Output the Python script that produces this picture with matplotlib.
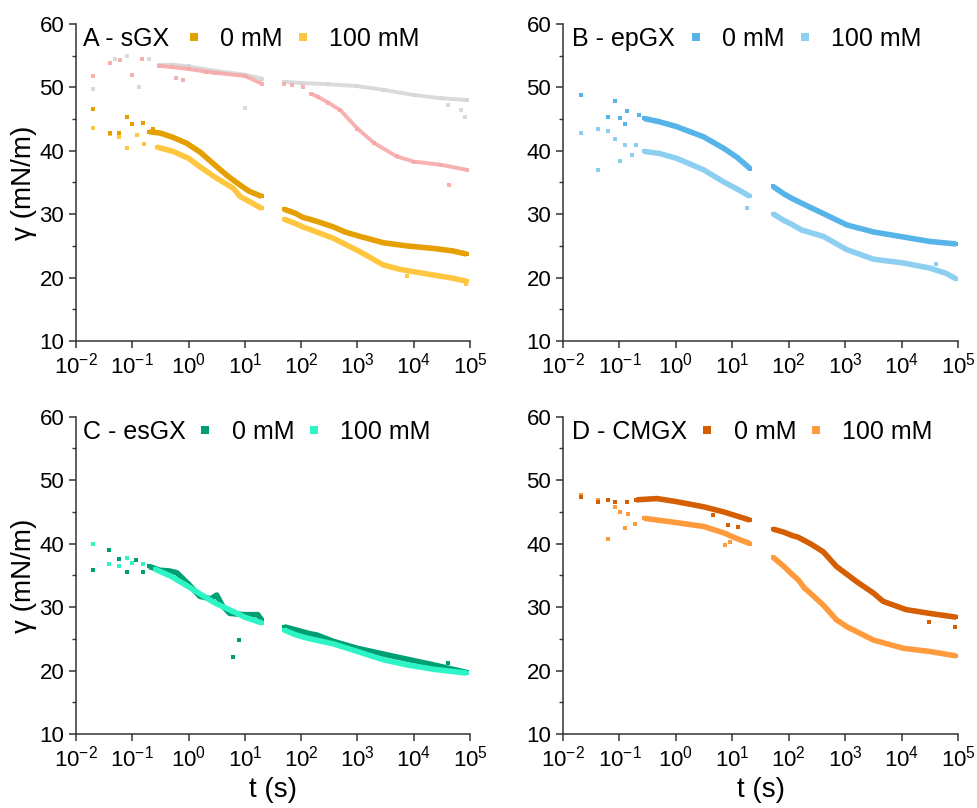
import matplotlib.pyplot as plt
import numpy as np

plt.rcParams['font.family'] = ['Liberation Sans', 'DejaVu Sans']
plt.rcParams['axes.linewidth'] = 1.1

# ---------------- datos (t en s, gamma en mN/m) ----------------
# Panel A - sGX
a0_loose_t = [0.02, 0.04, 0.058, 0.079, 0.098, 0.157, 0.235]
a0_loose_g = [46.6, 42.8, 42.8, 45.4, 44.3, 44.4, 43.5]
a0_seg1_t = [0.2, 0.31, 0.5, 0.92, 1.6, 3.16, 5.0, 8.2, 12.0, 19.9]
a0_seg1_g = [43.0, 42.8, 42.2, 41.2, 39.8, 37.5, 36.0, 34.6, 33.6, 32.8]
a0_seg2_t = [49.5, 81, 107, 143, 200, 372, 600, 1100, 2870, 7480, 22300, 50000, 87000]
a0_seg2_g = [30.8, 30.1, 29.5, 29.2, 28.8, 28.0, 27.2, 26.5, 25.5, 25.0, 24.6, 24.2, 23.7]

a100_loose_t = [0.02, 0.04, 0.058, 0.079, 0.12, 0.16, 7480, 85000]
a100_loose_g = [43.6, 42.6, 42.2, 40.5, 42.5, 41.0, 20.3, 19.0]
a100_seg1_t = [0.27, 0.53, 1.0, 1.58, 3.0, 6.2, 8.2, 12.0, 20.0]
a100_seg1_g = [40.6, 39.9, 38.8, 37.5, 35.8, 34.1, 32.8, 32.0, 30.9]
a100_seg2_t = [49.5, 81, 107, 143, 200, 372, 1100, 2870, 5690, 22300, 50000, 87000]
a100_seg2_g = [29.2, 28.5, 28.0, 27.6, 27.1, 26.2, 24.1, 22.0, 21.3, 20.4, 19.9, 19.4]

# series de fondo (gris y rosa) del panel A
grey_loose_t = [0.02, 0.05, 0.08, 0.13, 0.2, 10, 40000, 70000, 80000]
grey_loose_g = [49.7, 54.5, 55.0, 50.0, 54.5, 46.7, 47.2, 46.5, 45.3]
grey_seg1_t = [0.3, 0.5, 1.0, 3.0, 10, 20]
grey_seg1_g = [53.5, 53.6, 53.3, 52.6, 52.0, 51.4]
grey_seg2_t = [50, 100, 300, 1000, 3000, 10000, 30000, 87000]
grey_seg2_g = [50.9, 50.7, 50.5, 50.2, 49.6, 48.8, 48.3, 48.0]

pink_loose_t = [0.02, 0.04, 0.06, 0.1, 0.15, 0.6, 0.8, 50, 70, 110, 43000]
pink_loose_g = [51.8, 53.8, 54.3, 52.0, 54.5, 51.5, 51.2, 50.6, 50.4, 50.0, 34.6]
pink_seg1_t = [0.3, 0.5, 1.0, 2.0, 3.0, 10, 20]
pink_seg1_g = [53.4, 53.2, 52.9, 52.5, 52.3, 51.8, 50.6]
pink_seg2_t = [150, 200, 300, 500, 1000, 2000, 5000, 10000, 30000, 87000]
pink_seg2_g = [49.0, 48.5, 47.6, 46.4, 43.5, 41.2, 39.1, 38.3, 37.8, 37.0]

# Panel B - epGX
b0_loose_t = [0.021, 0.062, 0.084, 0.103, 0.127, 0.136, 0.22]
b0_loose_g = [48.8, 45.4, 47.9, 45.2, 44.3, 46.2, 45.6]
b0_seg1_t = [0.27, 0.5, 1.04, 3.1, 7.0, 12.0, 20.6]
b0_seg1_g = [45.1, 44.6, 43.8, 42.2, 40.4, 39.0, 37.2]
b0_seg2_t = [52, 82, 113, 147, 250, 410, 1070, 3170, 10800, 31600, 93000]
b0_seg2_g = [34.4, 33.2, 32.5, 32.0, 31.0, 30.1, 28.3, 27.2, 26.4, 25.7, 25.3]

b100_loose_t = [0.021, 0.041, 0.041, 0.062, 0.084, 0.103, 0.127, 0.17, 0.2, 18, 40000]
b100_loose_g = [42.8, 43.5, 36.9, 43.2, 41.9, 38.4, 40.9, 39.3, 40.9, 30.9, 22.2]
b100_seg1_t = [0.27, 0.5, 1.04, 3.1, 7.0, 12.0, 20.6]
b100_seg1_g = [39.9, 39.6, 38.8, 37.0, 35.1, 34.0, 32.8]
b100_seg2_t = [52, 82, 113, 170, 410, 1070, 3170, 10800, 31600, 60000, 93000]
b100_seg2_g = [30.1, 29.0, 28.4, 27.5, 26.5, 24.4, 22.9, 22.3, 21.5, 20.7, 19.8]

# Panel C - esGX
c0_loose_t = [0.02, 0.039, 0.058, 0.079, 0.116, 0.157, 6.2, 8.0, 40000]
c0_loose_g = [35.8, 39.0, 37.6, 35.6, 37.4, 35.6, 22.1, 24.8, 21.2]
c0_seg1_t = [0.2, 0.31, 0.45, 0.62, 1.0, 1.58, 2.5, 3.16, 4.0, 5.4, 10, 17, 20]
c0_seg1_g = [36.4, 35.8, 35.7, 35.4, 33.6, 31.7, 31.3, 31.9, 30.2, 29.0, 28.8, 28.8, 27.9]
c0_seg2_t = [49.5, 81, 107, 143, 190, 372, 1000, 2870, 7480, 22300, 87000]
c0_seg2_g = [26.9, 26.4, 26.1, 25.8, 25.6, 24.6, 23.5, 22.6, 21.8, 20.9, 19.7]

c100_loose_t = [0.02, 0.039, 0.058, 0.079, 0.1, 0.157]
c100_loose_g = [40.0, 36.8, 36.4, 37.8, 36.9, 36.8]
c100_seg1_t = [0.25, 0.5, 1.0, 1.58, 3.0, 6.2, 10, 20]
c100_seg1_g = [36.0, 34.8, 33.2, 32.1, 30.6, 29.3, 28.4, 27.5]
c100_seg2_t = [49.5, 81, 107, 143, 372, 1000, 2870, 7480, 22300, 87000]
c100_seg2_g = [26.4, 25.6, 25.3, 25.0, 24.2, 23.0, 21.7, 20.9, 20.2, 19.6]

# Panel D - CMGX
d0_loose_t = [0.021, 0.041, 0.062, 0.084, 0.136, 4.5, 8.5, 12.5, 30000, 90000]
d0_loose_g = [47.4, 46.6, 46.9, 46.6, 46.6, 44.5, 42.9, 42.6, 27.6, 26.9]
d0_seg1_t = [0.2, 0.46, 1.04, 3.1, 7.0, 20.6]
d0_seg1_g = [46.9, 47.1, 46.6, 45.8, 45.0, 43.7]
d0_seg2_t = [52, 82, 113, 147, 240, 410, 700, 1600, 3170, 4700, 12000, 31600, 93000]
d0_seg2_g = [42.3, 41.8, 41.3, 41.0, 40.0, 38.7, 36.4, 34.0, 32.2, 30.9, 29.6, 29.0, 28.4]

d100_loose_t = [0.021, 0.041, 0.062, 0.084, 0.103, 0.127, 0.14, 0.19, 7.5, 9.0]
d100_loose_g = [47.6, 46.9, 40.7, 45.8, 45.0, 42.4, 44.7, 43.1, 39.8, 40.2]
d100_seg1_t = [0.27, 1.04, 3.1, 7.0, 12.0, 20.6]
d100_seg1_g = [44.0, 43.3, 42.7, 41.7, 40.8, 40.0]
d100_seg2_t = [52, 82, 113, 147, 190, 240, 410, 700, 1070, 3170, 10800, 31600, 93000]
d100_seg2_g = [37.9, 36.4, 35.2, 34.3, 33.0, 32.2, 30.3, 28.0, 26.9, 24.8, 23.5, 23.0, 22.3]

# colores
col_a = ['#E69F00', '#FFC73F']
col_b = ['#56B4E9', '#8DCFF1']
col_c = ['#009E73', '#2EF5C6']
col_d = ['#D55E00', '#FF9A3D']
col_grey = '#D6D6D6'
col_pink = '#F7A9A9'


def serie(ax, lt, lg, s1t, s1g, s2t, s2g, color, ms=3.5, lw=4.0, alpha=1.0):
    ax.plot(lt, lg, 's', color=color, ms=ms, mew=0, alpha=alpha)
    for st, sg in [(s1t, s1g), (s2t, s2g)]:
        ax.plot(st, sg, '-', color=color, lw=lw, alpha=alpha, solid_capstyle='butt')
        ax.plot(st, sg, 's', color=color, ms=ms, mew=0, alpha=alpha)


def estilo(ax, titulo, colores, xlab, ylab, xt):
    ax.set_xscale('log')
    ax.set_xlim(1e-2, 1e5)
    ax.set_ylim(10, 60)
    ax.set_yticks([10, 20, 30, 40, 50, 60])
    ax.set_yticks(np.arange(15, 60, 10), minor=True)
    ax.set_xticks([1e-2, 1e-1, 1e0, 1e1, 1e2, 1e3, 1e4, 1e5])
    ax.spines['top'].set_visible(False)
    ax.spines['right'].set_visible(False)
    for s in ['left', 'bottom']:
        ax.spines[s].set_color('#333333')
    ax.tick_params(which='major', direction='out', length=5, width=1.1, labelsize=16, colors='#333333', labelcolor='black')
    ax.tick_params(which='minor', direction='out', length=3, width=1.0, colors='#333333')
    if xlab:
        ax.set_xlabel('t (s)', fontsize=20, labelpad=4)
    if ylab:
        ax.set_ylabel('γ (mN/m)', fontsize=20, labelpad=2)
    ax.text(xt, 0.952, titulo, transform=ax.transAxes, fontsize=18, va='center', ha='left')
    h0, = ax.plot([], [], 's', color=colores[0], ms=6, mew=0)
    h1, = ax.plot([], [], 's', color=colores[1], ms=6, mew=0)
    return h0, h1


fig = plt.figure(figsize=(9.78, 8.08), dpi=100)
axA = fig.add_axes([0.0777, 0.578, 0.4029, 0.3923])
axB = fig.add_axes([0.5757, 0.578, 0.4039, 0.3923])
axC = fig.add_axes([0.0777, 0.0916, 0.4029, 0.3927])
axD = fig.add_axes([0.5757, 0.0916, 0.4039, 0.3927])

serie(axA, grey_loose_t, grey_loose_g, grey_seg1_t, grey_seg1_g, grey_seg2_t, grey_seg2_g, col_grey, ms=2.2, lw=2.8, alpha=0.9)
serie(axA, pink_loose_t, pink_loose_g, pink_seg1_t, pink_seg1_g, pink_seg2_t, pink_seg2_g, col_pink, ms=2.2, lw=2.8, alpha=0.9)
serie(axA, a100_loose_t, a100_loose_g, a100_seg1_t, a100_seg1_g, a100_seg2_t, a100_seg2_g, col_a[1])
serie(axA, a0_loose_t, a0_loose_g, a0_seg1_t, a0_seg1_g, a0_seg2_t, a0_seg2_g, col_a[0])

serie(axB, b100_loose_t, b100_loose_g, b100_seg1_t, b100_seg1_g, b100_seg2_t, b100_seg2_g, col_b[1])
serie(axB, b0_loose_t, b0_loose_g, b0_seg1_t, b0_seg1_g, b0_seg2_t, b0_seg2_g, col_b[0])

serie(axC, c0_loose_t, c0_loose_g, c0_seg1_t, c0_seg1_g, c0_seg2_t, c0_seg2_g, col_c[0])
serie(axC, c100_loose_t, c100_loose_g, c100_seg1_t, c100_seg1_g, c100_seg2_t, c100_seg2_g, col_c[1])

serie(axD, d100_loose_t, d100_loose_g, d100_seg1_t, d100_seg1_g, d100_seg2_t, d100_seg2_g, col_d[1])
serie(axD, d0_loose_t, d0_loose_g, d0_seg1_t, d0_seg1_g, d0_seg2_t, d0_seg2_g, col_d[0])

paneles = [(axA, 'A - sGX', col_a, False, True, 0.018, 0.274),
           (axB, 'B - epGX', col_b, False, False, 0.022, 0.311),
           (axC, 'C - esGX', col_c, True, True, 0.018, 0.303),
           (axD, 'D - CMGX', col_d, True, False, 0.022, 0.34)]
for ax, tit, cols, xl, yl, xt, x0 in paneles:
    h0, h1 = estilo(ax, tit, cols, xl, yl, xt)
    ax.legend([h0, h1], ['0 mM', '100 mM'], loc='center left', bbox_to_anchor=(x0, 0.952),
              ncol=2, frameon=False, fontsize=18, handlelength=0.8, handletextpad=0.65,
              columnspacing=0.4, borderpad=0, borderaxespad=0)

fig.savefig('out.png', dpi=100)
